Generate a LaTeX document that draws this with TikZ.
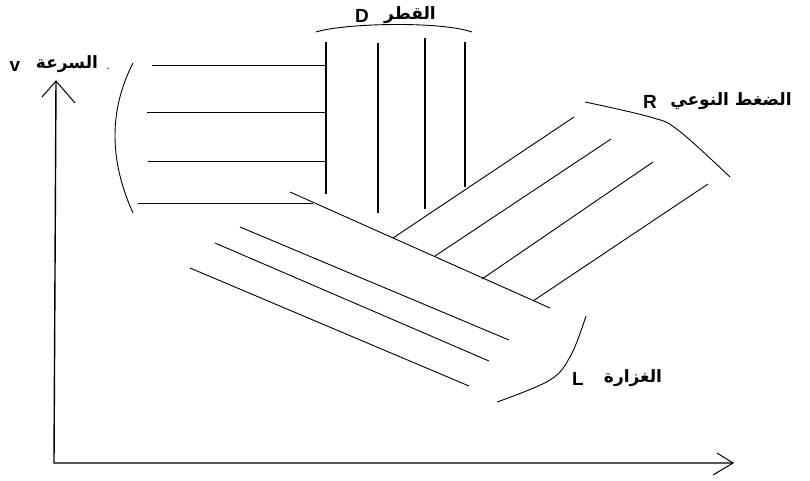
\documentclass[tikz,border=0pt]{standalone}
\usepackage{fontspec}
\setmainfont{Liberation Sans}
\newfontfamily\arabicfont[Script=Arabic]{DejaVu Sans}
\TeXXeTstate=1
\begin{document}
\begin{tikzpicture}[x=1pt,y=-1pt,
  thin line/.style={line width=0.9pt,black},
  thick line/.style={line width=1.4pt,black},
  axis line/.style={line width=1.4pt,black},
  tip line/.style={line width=1pt,black},
  ar/.style={font=\arabicfont\bfseries\fontsize{17}{19}\selectfont,inner sep=0pt},
  la/.style={font=\bfseries\fontsize{19}{21}\selectfont,inner sep=0pt}]
\useasboundingbox (0,0) rectangle (810,480);
% axes
\coordinate (O) at (54,463);
\coordinate (Y) at (56,81);
\coordinate (X) at (733,463);
\draw[axis line] (Y) -- (O) -- (X);
\draw[tip line] (42,97) -- (Y) -- (75,103);
\draw[tip line] (717,453) -- (X) -- (713,475);
% velocity: horizontal lines and boundary curve
\draw[thin line] (133,63) .. controls (109,110) and (109,160) .. (133,213);
\draw[thin line] (152,65) -- (326,65);
\draw[thin line] (147,112) -- (326,112);
\draw[thin line] (148,161) -- (326,161);
\draw[thin line] (138,203) -- (313,203);
% diameter: vertical lines and arc
\draw[thin line] (316,32) .. controls (345,23) and (440,21) .. (472,32);
\draw[thick line] (326,42) -- (326,194);
\draw[thick line] (378,43) -- (378,213);
\draw[thick line] (425,38) -- (425,209);
\draw[thick line] (465,42) -- (465,187);
% main diagonal
\draw[thin line] (290,192) -- (550,308);
% pressure: branch lines and curve
\draw[thin line] (393,238) -- (574,117);
\draw[thin line] (435,256) -- (611,139);
\draw[thin line] (482,279) -- (653,162);
\draw[thin line] (533,301) -- (708,184);
\draw[thin line] plot[smooth,tension=0.6] coordinates {(585,102) (650,117) (678,130) (730,177)};
% flow: parallel lines and curve
\draw[thin line] (240,227) -- (509,340);
\draw[thin line] (215,243) -- (489,361);
\draw[thin line] (190,268) -- (469,386);
\draw[thin line] plot[smooth,tension=0.6] coordinates {(586,316) (571,355) (550,380) (497,402)};
% labels
\node[la] (vl) at (15,66) {v};
\node[ar] (vt) at (67,64) {\beginR السرعة\endR};
\node[la,font=\bfseries\fontsize{8}{9}\selectfont] (vd) at (108,69) {.};
\node[la] (dl) at (362,16) {D};
\node[ar] (dt) at (410,15) {\beginR القطر\endR};
\node[la] (rl) at (650,102) {R};
\node[ar] (rt) at (731,101) {\beginR الضغط النوعي\endR};
\node[la] (ll) at (578,379) {L};
\node[ar] (lt) at (633,378) {\beginR الغزارة\endR};
\end{tikzpicture}
\end{document}
